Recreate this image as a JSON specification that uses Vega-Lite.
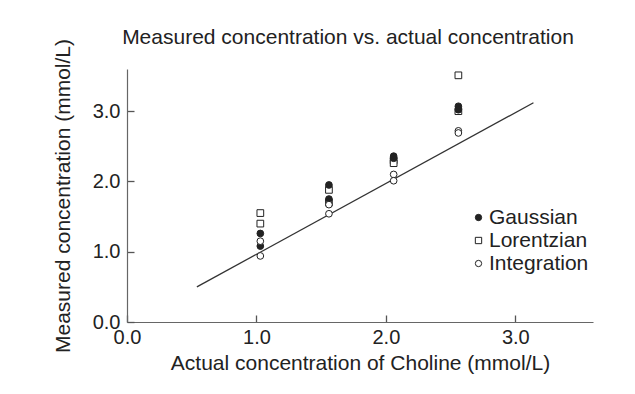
{
  "$schema": "https://vega.github.io/schema/vega-lite/v6.json",
  "width": 466,
  "height": 253,
  "autosize": "none",
  "padding": {"left": 127, "top": 69, "right": 42, "bottom": 72},
  "background": "white",
  "config": {
    "font": "Liberation Sans",
    "view": {"stroke": null},
    "axis": {
      "grid": false,
      "ticks": true,
      "domainColor": "#666",
      "domainWidth": 1.2,
      "tickColor": "#555",
      "tickWidth": 1.3,
      "tickSize": -7,
      "labelColor": "#222",
      "titleColor": "#222",
      "labelFontSize": 20,
      "titleFontSize": 21,
      "titleFontWeight": "normal",
      "labelOverlap": false,
      "labelFlush": false
    }
  },
  "title": {
    "text": "Measured concentration vs. actual concentration",
    "fontSize": 21,
    "fontWeight": "normal",
    "color": "#222",
    "offset": -9,
    "dx": -12
  },
  "layer": [
    {
      "data": {"values": [{"x": 0.54, "y": 0.5}, {"x": 3.14, "y": 3.12}]},
      "mark": {"type": "line", "color": "#333", "strokeWidth": 1.3},
      "encoding": {
        "x": {"field": "x", "type": "quantitative"},
        "y": {"field": "y", "type": "quantitative"}
      }
    },
    {
      "data": {
        "values": [
          {"method": "Gaussian", "actual": 1.03, "measured": 1.26},
          {"method": "Gaussian", "actual": 1.03, "measured": 1.08},
          {"method": "Lorentzian", "actual": 1.03, "measured": 1.55},
          {"method": "Lorentzian", "actual": 1.03, "measured": 1.40},
          {"method": "Integration", "actual": 1.03, "measured": 1.15},
          {"method": "Integration", "actual": 1.03, "measured": 0.94},
          {"method": "Lorentzian", "actual": 1.56, "measured": 1.88},
          {"method": "Lorentzian", "actual": 1.56, "measured": 1.70},
          {"method": "Gaussian", "actual": 1.56, "measured": 1.95},
          {"method": "Gaussian", "actual": 1.56, "measured": 1.75},
          {"method": "Integration", "actual": 1.56, "measured": 1.67},
          {"method": "Integration", "actual": 1.56, "measured": 1.54},
          {"method": "Lorentzian", "actual": 2.06, "measured": 2.30},
          {"method": "Lorentzian", "actual": 2.06, "measured": 2.26},
          {"method": "Gaussian", "actual": 2.06, "measured": 2.36},
          {"method": "Gaussian", "actual": 2.06, "measured": 2.33},
          {"method": "Integration", "actual": 2.06, "measured": 2.10},
          {"method": "Integration", "actual": 2.06, "measured": 2.01},
          {"method": "Lorentzian", "actual": 2.56, "measured": 3.51},
          {"method": "Lorentzian", "actual": 2.56, "measured": 3.00},
          {"method": "Gaussian", "actual": 2.56, "measured": 3.07},
          {"method": "Gaussian", "actual": 2.56, "measured": 3.02},
          {"method": "Integration", "actual": 2.56, "measured": 2.72},
          {"method": "Integration", "actual": 2.56, "measured": 2.69}
        ]
      },
      "mark": {"type": "point", "filled": true, "stroke": "#222", "strokeWidth": 1, "size": 45, "opacity": 1},
      "encoding": {
        "x": {
          "field": "actual",
          "type": "quantitative",
          "scale": {"domain": [0, 3.6], "nice": false, "zero": true},
          "axis": {"values": [0, 1, 2, 3], "format": ".1f", "title": "Actual concentration of Choline (mmol/L)", "labelPadding": 12, "titlePadding": 5}
        },
        "y": {
          "field": "measured",
          "type": "quantitative",
          "scale": {"domain": [0, 3.6], "nice": false},
          "axis": {"values": [0, 1, 2, 3], "format": ".1f", "title": "Measured concentration (mmol/L)", "labelPadding": 14, "titlePadding": 19}
        },
        "shape": {
          "field": "method",
          "type": "nominal",
          "scale": {"domain": ["Gaussian", "Lorentzian", "Integration"], "range": ["circle", "square", "circle"]},
          "legend": {"title": null}
        },
        "fill": {
          "field": "method",
          "type": "nominal",
          "scale": {"domain": ["Gaussian", "Lorentzian", "Integration"], "range": ["#222", "white", "white"]},
          "legend": {
            "title": null,
            "orient": "none",
            "legendX": 341,
            "legendY": 138,
            "labelFontSize": 21,
            "labelColor": "#222",
            "symbolSize": 40,
            "symbolStrokeColor": "#444",
            "symbolStrokeWidth": 1,
            "rowPadding": 1,
            "labelOffset": 0
          }
        }
      }
    }
  ]
}
